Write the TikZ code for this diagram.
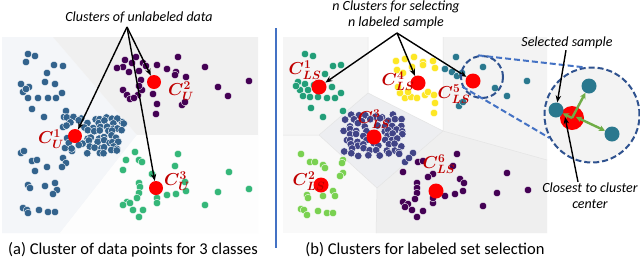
\documentclass[tikz,border=0pt]{standalone}
\usepackage[no-math]{fontspec}
\setmainfont{Carlito}
\usepackage{bm}
\usetikzlibrary{arrows.meta, calc}

\definecolor{dotblue}{RGB}{51,99,141}
\definecolor{dotpurple}{RGB}{68,1,84}
\definecolor{dotgreen}{RGB}{53,183,121}
\definecolor{dotteal}{RGB}{34,158,120}
\definecolor{dotlime}{RGB}{122,209,81}
\definecolor{dotnavy}{RGB}{65,68,135}
\definecolor{dotyellow}{RGB}{253,231,37}
\definecolor{dotcyan}{RGB}{42,120,142}
\definecolor{labelred}{RGB}{192,0,0}
\definecolor{ringblue}{RGB}{47,82,143}
\definecolor{linkblue}{RGB}{68,114,196}
\definecolor{arrowgreen}{RGB}{112,173,71}

\begin{document}
\begin{tikzpicture}[
    x=1pt, y=-1pt,
    >=Stealth,
    dot/.style={draw=white, line width=0.4pt},
    centroid/.style={circle, fill=red, inner sep=0pt, minimum size=14pt},
    clabel/.style={text=labelred, inner sep=0pt, font=\fontsize{18}{18}\selectfont},
    callout/.style={font=\itshape\fontsize{14}{16}\selectfont, align=center, inner sep=1pt},
    caption/.style={font=\fontsize{16.5}{19}\selectfont},
    arrow/.style={-{Stealth[length=7pt,width=5.5pt]}, line width=1.4pt, draw=black},
    greenarrow/.style={-{Stealth[length=6pt,width=6pt]}, line width=2.4pt, draw=arrowgreen},
    ring/.style={circle, draw=ringblue, line width=2pt, dash pattern=on 6pt off 3pt, inner sep=0pt},
    link/.style={draw=linkblue, line width=2pt, dash pattern=on 6pt off 3pt},
    sample/.style={circle, fill=dotcyan, inner sep=0pt, minimum size=15pt},
]
\pgfmathsetseed{11}

\useasboundingbox (0,0) rectangle (640,266);

% ============ PANEL (a): REGIONS ============
\fill[white] (0,0) rectangle (640,266);
\fill[fill={rgb,255:red,244;green,246;blue,249}] (2,37) -- (53,37) -- (137,135) -- (60,233) -- (2,233) -- cycle;
\fill[fill={rgb,255:red,240;green,240;blue,240}] (53,37) -- (258,37) -- (258,135) -- (137,135) -- cycle;
\fill[fill={rgb,255:red,253;green,253;blue,253}] (137,135) -- (258,135) -- (258,233) -- (60,233) -- cycle;

% ============ PANEL (a): POINTS ============
% blue class
\foreach \x/\y in {28/54, 35/56, 26/62, 54/65, 63/66, 47/73, 21/84, 29/87, 23/92, 26/89,
    45/82, 55/84, 28/98, 38/98, 48/98, 56/98, 62/93, 32/109, 44/117, 66/111, 64/117,
    21/153, 24/151, 32/161, 37/160, 47/167, 35/171, 63/158, 66/163, 62/167,
    28/185, 30/188, 45/186, 55/183, 57/190, 53/194, 23/208, 27/210, 28/213,
    39/210, 48/212, 55/212, 65/148, 72/151, 122/122, 63/127}
    \fill[dot, fill=dotblue] (\x,\y) circle (3.8pt);
\foreach \x/\y in {66/118, 73/118, 82/118, 95/118, 100/118, 105/118, 110/118, 116/118,
    70/122, 78/122, 88/122, 98/122, 104/122, 112/122, 122/123,
    66/127, 84/127, 92/127, 100/127, 107/127, 113/127, 117/127,
    86/132, 94/132, 101/132, 108/132, 114/132, 120/132,
    66/137, 86/137, 92/137, 99/137, 106/137, 111/137, 116/137,
    69/142, 82/142, 90/142, 96/142, 104/142, 108/142, 113/142, 118/142,
    72/147, 79/147, 88/147, 94/147, 101/147, 106/147, 112/147, 118/147,
    86/152, 98/152, 104/152, 110/152, 117/152}
    \fill[dot, fill=dotblue] ({\x+2*rand},{\y+2*rand}) circle (3.8pt);
% purple class
\foreach \x/\y in {125/60, 136/57, 143/63, 123/67, 129/72, 139/71, 146/66, 157/65, 167/69,
    176/72, 178/57, 205/67, 186/77, 175/75, 141/80, 123/90, 127/95, 130/99, 138/95,
    142/90, 139/86, 153/94, 157/104, 156/114, 182/105, 185/102, 218/87, 228/96,
    249/81, 134/98, 132/63, 117/68}
    \fill[dot, fill=dotpurple] (\x,\y) circle (3.8pt);
% green class
\foreach \x/\y in {135/152, 139/160, 126/160, 123/170, 178/154, 175/166, 185/182, 186/191,
    176/194, 167/195, 156/192, 157/198, 157/203, 152/174, 139/183, 140/187, 139/193,
    137/198, 127/202, 130/203, 133/210, 143/210, 139/217, 123/205, 205/205, 218/192,
    229/172, 249/189, 142/162}
    \fill[dot, fill=dotgreen] (\x,\y) circle (3.8pt);

% ============ PANEL (a): CENTROIDS + LABELS ============
\node[centroid] (cu1) at (75,136) {};
\node[centroid] (cu2) at (154,82) {};
\node[centroid] (cu3) at (156,188) {};

\node[clabel] (lu1) at (51,139) {$\bm{C_{U}^{1}}$};
\node[clabel] (lu2) at (181,91) {$\bm{C_{U}^{2}}$};
\node[clabel] (lu3) at (177,181) {$\bm{C_{U}^{3}}$};

\node[callout] (titlea) at (139,17) {Clusters of unlabeled data};
\coordinate (froma) at (127,27);
\draw[arrow] (froma) -- (cu1);
\draw[arrow] (froma) -- (cu2);
\draw[arrow] (froma) -- (cu3);

\node[caption] (capa) at (133,250) {(a) Cluster of data points for 3 classes};

% ============ DIVIDER ============
\coordinate (divtop) at (276,28);
\coordinate (divbot) at (276,248);
\draw[draw=linkblue, line width=1.2pt] (divtop) -- (divbot);

% ============ PANEL (b): REGIONS ============
\fill[fill={rgb,255:red,249;green,249;blue,249}] (283,37) rectangle (547,233);
\fill[fill={rgb,255:red,245;green,245;blue,245}] (283,37) -- (368,37) -- (368,93) -- (319,135) -- (283,135) -- cycle;
\fill[white] (368,37) -- (443,37) -- (443,131) -- (368,93) -- cycle;
\fill[fill={rgb,255:red,243;green,243;blue,243}] (443,37) -- (547,37) -- (547,160) -- (443,131) -- cycle;
\fill[fill={rgb,255:red,237;green,238;blue,241}] (319,135) -- (368,93) -- (443,131) -- (377,188) -- cycle;
\fill[fill={rgb,255:red,239;green,239;blue,239}] (377,188) -- (443,131) -- (547,160) -- (547,233) -- (376,233) -- cycle;
\draw[draw={rgb,255:red,228;green,228;blue,228}, line width=0.5pt]
    (368,37) -- (368,93) -- (319,135) -- (283,135)
    (368,93) -- (443,131) -- (377,188) -- (319,135)
    (443,37) -- (443,131) -- (547,160)
    (377,188) -- (376,233);

% ============ PANEL (b): POINTS ============
% cluster 1
\foreach \x/\y in {305/54, 313/56, 333/66, 341/65, 325/74, 298/82, 305/84, 300/90, 308/90,
    303/96, 310/97, 318/97, 327/98, 335/98, 341/93, 332/87, 311/108, 323/117, 343/111,
    296/86, 314/85}
    \fill[dot, fill=dotteal] (\x,\y) circle (3.8pt);
% cluster 2
\foreach \x/\y in {301/154, 310/162, 315/162, 323/165, 325/168, 343/160, 342/163, 343/173,
    340/176, 333/191, 335/196, 307/195, 308/198, 323/196, 301/209, 304/210, 307/215,
    318/211, 327/213, 333/213}
    \fill[dot, fill=dotlime] (\x,\y) circle (3.8pt);
% cluster 3
\foreach \x/\y in {352/116, 358/116, 364/116, 376/116, 384/116, 392/116,
    346/120, 352/120, 362/120, 370/120, 380/120, 388/120, 396/120, 402/120,
    349/125, 356/125, 364/125, 378/125, 386/125, 393/125, 400/125,
    345/130, 352/130, 358/130, 366/130, 384/130, 390/130, 398/130, 404/130,
    350/135, 356/135, 362/135, 386/135, 394/135, 402/135,
    345/140, 352/140, 359/140, 366/140, 384/140, 390/140, 398/140,
    349/145, 356/145, 364/145, 372/145, 380/145, 388/145, 396/145, 403/145,
    345/150, 353/150, 362/150, 370/150, 378/150, 386/150, 394/150, 400/150,
    350/155, 360/155, 368/155, 380/155, 390/155, 398/155}
    \fill[dot, fill=dotnavy] ({\x+2*rand},{\y+2*rand}) circle (3.8pt);
\foreach \x/\y in {405/162, 413/153, 409/158}
    \fill[dot, fill=dotnavy] (\x,\y) circle (3.8pt);
% cluster 4
\foreach \x/\y in {396/61, 405/59, 414/57, 423/62, 433/61, 435/68, 397/70, 403/73, 412/67,
    423/65, 400/93, 405/98, 411/97, 417/98, 425/95, 428/92, 434/95, 435/103, 434/113,
    408/92, 398/87}
    \fill[dot, fill=dotyellow] (\x,\y) circle (3.8pt);
% cluster 5
\foreach \x/\y in {456/57, 445/69, 452/72, 457/76, 462/73, 483/67, 495/88, 507/96, 527/81,
    459/106, 463/102}
    \fill[dot, fill=dotcyan] (\x,\y) circle (3.8pt);
% cluster 6
\foreach \x/\y in {418/162, 423/161, 457/154, 453/166, 403/172, 433/174, 428/177, 460/179,
    464/183, 463/191, 455/194, 445/196, 417/183, 417/188, 417/193, 415/199, 403/202,
    408/204, 405/207, 412/210, 423/211, 417/217, 433/203, 433/198, 497/193, 507/173,
    528/190, 483/206}
    \fill[dot, fill=dotpurple] (\x,\y) circle (3.8pt);

% ============ PANEL (b): CENTROIDS + LABELS ============
\node[centroid, minimum size=15pt] (cls1) at (319,87) {};
\node[centroid, minimum size=15pt] (cls2) at (321,185) {};
\node[centroid, minimum size=15pt] (cls3) at (374,137) {};
\node[centroid, minimum size=15pt] (cls4) at (418,83) {};
\node[centroid, minimum size=15pt] (cls5) at (473,81) {};
\node[centroid, minimum size=15pt] (cls6) at (436,191) {};

\node[clabel] (lls1) at (305,70) {$\bm{C_{LS}^{1}}$};
\node[clabel] (lls2) at (309,181) {$\bm{C_{LS}^{2}}$};
\node[clabel] (lls3) at (374,119) {$\bm{C_{LS}^{3}}$};
\node[clabel] (lls4) at (398,81) {$\bm{C_{LS}^{4}}$};
\node[clabel] (lls5) at (454,94) {$\bm{C_{LS}^{5}}$};
\node[clabel] (lls6) at (439,164) {$\bm{C_{LS}^{6}}$};

\node[callout] (titleb) at (396,15) {n Clusters for selecting\\n labeled sample};
\coordinate (fromb) at (397,33);
\draw[arrow] (fromb) -- (cls1);
\draw[arrow] (fromb) -- (cls4);
\draw[arrow] (fromb) -- (cls5);

% ============ ZOOM-IN OF CLUSTER 5 ============
\node[ring, minimum size=42pt] (ringsmall) at (482,77) {};
\node[ring, minimum size=95pt, fill={rgb,255:red,243;green,243;blue,243}] (ringbig) at (592,115) {};
\draw[link] (ringsmall.100) -- (ringbig.100);
\draw[link] (ringsmall.206) -- (ringbig.208);

\node[centroid, minimum size=24pt] (bigc) at (572,118) {};
\node[sample] (samp1) at (556,110) {};
\node[sample] (samp2) at (589,86) {};
\node[sample] (samp3) at (612,134) {};
\draw[greenarrow] (bigc.center) -- (samp1);
\draw[greenarrow] (bigc.center) -- (samp2);
\draw[greenarrow, {Stealth[length=6pt,width=6pt]}-{Stealth[length=6pt,width=6pt]}] ([shift={(4pt,1pt)}]bigc.center) -- (samp3);

\node[callout] (sellabel) at (567,43) {Selected sample};
\draw[arrow] ([xshift=-1pt]sellabel.south) -- (samp1);

\node[callout] (closelabel) at (590,196) {Closest to cluster\\center};
\coordinate (closept) at (565,117);
\draw[arrow] ([xshift=-12pt]closelabel.north) -- (closept);

\node[caption] (capb) at (425,250) {(b) Clusters for labeled set selection};

\end{tikzpicture}
\end{document}
